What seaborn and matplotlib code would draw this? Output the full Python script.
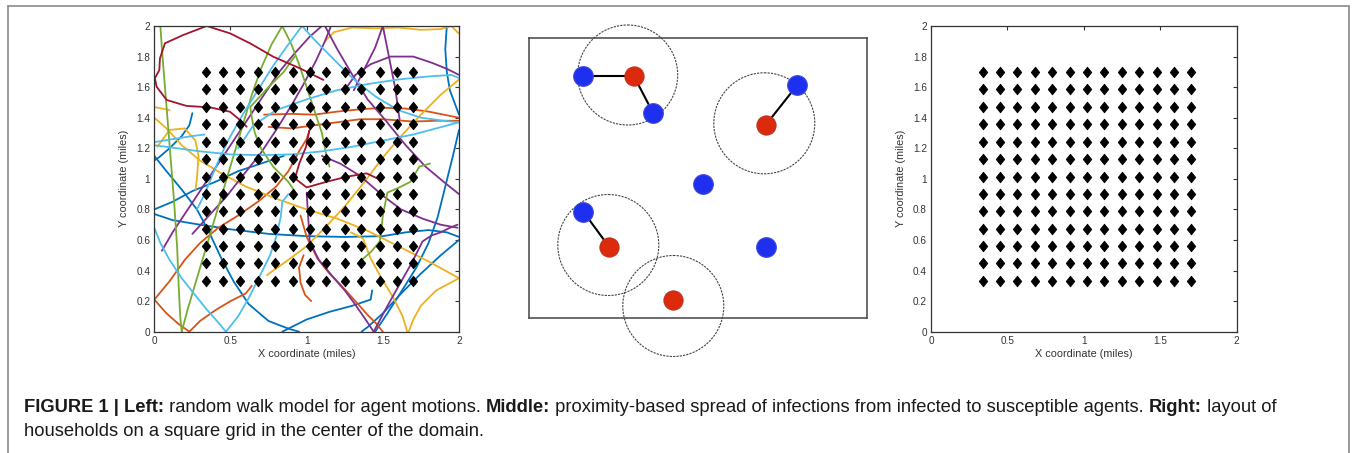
import matplotlib
matplotlib.use("Agg")
import numpy as np
import pandas as pd
import seaborn as sns
import matplotlib.pyplot as plt
from matplotlib.patches import Circle
from matplotlib.lines import Line2D

# ---------------- data ----------------
# household grid (miles)
grid_x = [0.34, 0.45, 0.56, 0.68, 0.79, 0.91, 1.02, 1.13, 1.25, 1.36, 1.48, 1.59, 1.70]
grid_y = [0.33, 0.45, 0.56, 0.67, 0.79, 0.90, 1.01, 1.13, 1.24, 1.36, 1.47, 1.59, 1.70]

axis_ticks_x = [0, 0.5, 1, 1.5, 2]
axis_ticklabels_x = ["0", "0.5", "1", "1.5", "2"]
axis_ticks_y = [0, 0.2, 0.4, 0.6, 0.8, 1.0, 1.2, 1.4, 1.6, 1.8, 2.0]
axis_ticklabels_y = ["0", "0.2", "0.4", "0.6", "0.8", "1", "1.2", "1.4", "1.6", "1.8", "2"]

# random-walk trajectories (miles)
walk_b1 = [(0.0,1.15),(0.08,1.05),(0.18,0.93),(0.28,0.80),(0.36,0.65),(0.44,0.48),(0.52,0.33),(0.62,0.18),(0.75,0.07),(0.88,0.02),(0.95,0.0)]
walk_b2 = [(0.0,0.77),(0.12,0.73),(0.3,0.70),(0.5,0.67),(0.75,0.64),(1.0,0.625),(1.25,0.62),(1.5,0.625),(1.65,0.65),(1.8,0.665),(1.92,0.65),(2.0,0.62)]
walk_b3 = [(1.92,2.0),(1.91,1.85),(1.92,1.7),(1.94,1.58),(1.97,1.5),(2.0,1.42)]
walk_b4 = [(2.0,1.32),(1.96,1.15),(1.91,0.95),(1.86,0.75),(1.8,0.58),(1.72,0.42),(1.62,0.26),(1.53,0.12),(1.45,0.0)]
walk_b5 = [(2.0,0.6),(1.88,0.5),(1.75,0.38),(1.62,0.25),(1.5,0.12),(1.4,0.03),(1.36,0.0)]
walk_b6 = [(1.43,0.27),(1.42,0.21),(1.3,0.17),(1.15,0.13),(1.0,0.08),(0.88,0.02),(0.84,0.0)]
walk_b7 = [(0.25,1.43),(0.23,1.35),(0.18,1.28),(0.1,1.2),(0.03,1.14),(0.0,1.12)]
walk_b8 = [(0.0,0.8),(0.12,0.85),(0.25,0.92),(0.4,0.98),(0.55,1.05),(0.7,1.1),(0.85,1.15)]

walk_o1 = [(0.72,1.42),(0.9,1.425),(1.05,1.42),(1.2,1.44),(1.35,1.455),(1.5,1.465),(1.65,1.46),(1.8,1.44),(1.9,1.42),(2.0,1.4)]
walk_o2 = [(0.75,1.34),(0.9,1.33),(1.05,1.35),(1.2,1.37),(1.35,1.39),(1.5,1.39),(1.7,1.375),(1.85,1.38),(2.0,1.38)]
walk_o3 = [(0.0,0.21),(0.1,0.33),(0.2,0.47),(0.3,0.58),(0.42,0.68),(0.55,0.76),(0.68,0.85),(0.8,0.95),(0.88,1.05),(0.95,1.18),(1.0,1.26),(1.02,1.32)]
walk_o4 = [(0.0,0.21),(0.08,0.12),(0.16,0.05),(0.23,0.0),(0.3,0.07),(0.4,0.14),(0.5,0.2),(0.6,0.25),(0.64,0.3)]
walk_o5 = [(0.96,0.76),(1.0,0.62),(1.07,0.48),(1.15,0.38),(1.22,0.31),(1.32,0.2),(1.4,0.11),(1.46,0.05),(1.5,0.0)]
walk_o6 = [(1.03,0.2),(0.99,0.24),(0.96,0.32),(0.95,0.42),(0.98,0.5)]

walk_y1 = [(1.12,1.9),(1.18,1.96),(1.3,1.99),(1.45,1.985),(1.6,1.99),(1.75,1.975),(1.88,1.98),(1.95,2.0),(2.0,1.95)]
walk_y2 = [(2.0,1.65),(1.88,1.55),(1.75,1.42),(1.62,1.28),(1.5,1.14),(1.38,0.98),(1.25,0.82),(1.12,0.68),(1.0,0.56),(0.88,0.47),(0.78,0.4),(0.74,0.37)]
walk_y3 = [(0.0,1.4),(0.08,1.33),(0.18,1.22),(0.3,1.12),(0.45,1.03),(0.6,0.95),(0.8,0.87),(1.0,0.8),(1.2,0.74),(1.4,0.66),(1.6,0.56),(1.8,0.46),(2.0,0.35),(1.85,0.27),(1.75,0.17),(1.7,0.08),(1.67,0.0)]
walk_y4 = [(1.29,0.65),(1.37,0.61),(1.42,0.48),(1.48,0.37),(1.57,0.22),(1.63,0.1),(1.66,0.0)]
walk_y5 = [(0.0,1.47),(0.05,1.46),(0.1,1.45)]
walk_y6 = [(0.02,1.21),(0.1,1.32),(0.2,1.33),(0.27,1.25),(0.29,1.15),(0.28,1.0),(0.27,0.93)]

walk_p1 = [(0.05,0.53),(0.12,0.65),(0.22,0.8),(0.32,0.95),(0.42,1.1),(0.52,1.25),(0.62,1.4),(0.72,1.55),(0.82,1.7),(0.92,1.82),(1.02,1.93),(1.1,2.0)]
walk_p2 = [(0.25,0.64),(0.35,0.75),(0.47,0.88),(0.58,1.02),(0.7,1.17),(0.8,1.32),(0.9,1.48),(0.98,1.62),(1.06,1.77),(1.12,1.9),(1.16,2.0)]
walk_p3 = [(1.12,2.0),(1.2,1.85),(1.3,1.68),(1.4,1.52),(1.52,1.38),(1.65,1.22),(1.78,1.08),(1.9,0.98),(2.0,0.9)]
walk_p4 = [(1.31,1.58),(1.38,1.72),(1.45,1.86),(1.5,2.0),(1.54,1.8),(1.58,1.6),(1.61,1.39)]
walk_p5 = [(1.25,1.58),(1.32,1.68),(1.42,1.75),(1.55,1.8),(1.7,1.8),(1.82,1.76),(1.92,1.72),(2.0,1.68)]
walk_p6 = [(1.0,0.91),(1.01,0.75),(1.02,0.59),(1.08,0.47),(1.18,0.35),(1.25,0.27),(1.31,0.19),(1.38,0.09),(1.44,0.0)]
walk_p7 = [(1.44,0.0),(1.52,0.15),(1.61,0.31),(1.69,0.45),(1.76,0.59),(1.82,0.63),(1.88,0.65),(1.94,0.68),(1.99,0.70)]
walk_p8 = [(1.1,1.15),(1.22,1.1),(1.35,1.02),(1.5,0.89),(1.62,0.8),(1.76,0.74),(1.88,0.7),(1.99,0.68)]

walk_g1 = [(0.04,2.0),(0.05,1.85),(0.07,1.6),(0.09,1.35),(0.11,1.1),(0.13,0.85),(0.15,0.55),(0.16,0.3),(0.17,0.1),(0.18,0.0)]
walk_g2 = [(0.18,0.0),(0.22,0.15),(0.28,0.35),(0.34,0.55),(0.4,0.75),(0.46,0.95),(0.52,1.15),(0.58,1.35),(0.64,1.55),(0.7,1.72),(0.77,1.88),(0.84,2.0),(0.9,1.88),(0.95,1.75),(1.0,1.6),(1.05,1.45),(1.1,1.3),(1.13,1.15),(1.15,1.08)]
walk_g3 = [(0.92,1.8),(0.85,1.7),(0.75,1.6),(0.63,1.47),(0.64,1.4),(0.66,1.3),(0.7,1.2),(0.78,1.08),(0.88,0.98),(0.92,0.92)]
walk_g4 = [(1.81,1.1),(1.74,1.08),(1.68,0.98),(1.6,0.94),(1.53,0.91),(1.5,0.76),(1.49,0.66),(1.48,0.59),(1.42,0.52),(1.35,0.46)]

walk_l1 = [(0.0,1.22),(0.15,1.2),(0.3,1.18),(0.5,1.16),(0.7,1.155),(0.9,1.16),(1.1,1.18),(1.3,1.21),(1.5,1.25),(1.7,1.29),(1.85,1.33),(2.0,1.37)]
walk_l2 = [(0.0,1.24),(0.12,1.26),(0.25,1.28),(0.33,1.29)]
walk_l3 = [(0.97,2.0),(0.88,1.88),(0.78,1.74),(0.68,1.58),(0.58,1.42),(0.5,1.28),(0.43,1.14),(0.38,1.02),(0.33,0.9),(0.28,0.8)]
walk_l4 = [(0.97,2.0),(1.06,1.9),(1.18,1.78),(1.3,1.66),(1.45,1.54),(1.6,1.45),(1.75,1.4),(1.9,1.38),(2.0,1.37)]
walk_l5 = [(0.55,1.2),(0.65,1.35),(0.8,1.45),(1.0,1.52),(1.2,1.58),(1.4,1.62),(1.6,1.65),(1.8,1.67),(1.95,1.68),(2.0,1.66)]
walk_l6 = [(0.0,0.68),(0.04,0.58),(0.1,0.47),(0.18,0.35),(0.26,0.25),(0.34,0.15),(0.42,0.06),(0.47,0.0)]
walk_l7 = [(0.47,0.0),(0.55,0.1),(0.62,0.22),(0.7,0.38),(0.76,0.5),(0.8,0.62),(0.83,0.75),(0.84,0.85),(0.88,0.9)]

walk_d1 = [(1.11,1.647),(0.956,1.723),(0.781,1.799),(0.628,1.887),(0.497,1.952),(0.344,2.0),(0.19,1.941),(0.07,1.887),(0.037,1.788),(0.033,1.712),(0.004,1.658),(0.015,1.603),(0.081,1.516),(0.212,1.477),(0.365,1.468),(0.497,1.439),(0.562,1.385),(0.606,1.341)]
walk_d2 = [(1.017,1.315),(0.996,1.21),(0.952,1.101),(0.923,1.003),(1.0,0.944),(1.131,0.981),(1.263,1.014),(1.394,1.036),(1.459,1.005)]

walk_colors = {
    "b": "#0072BD", "o": "#D95319", "y": "#EDB120", "p": "#7E2F8E",
    "g": "#77AC30", "l": "#4DBEEE", "d": "#A2142F",
}
walks = {
    "b1": walk_b1, "b2": walk_b2, "b3": walk_b3, "b4": walk_b4, "b5": walk_b5,
    "b6": walk_b6, "b7": walk_b7, "b8": walk_b8,
    "o1": walk_o1, "o2": walk_o2, "o3": walk_o3, "o4": walk_o4, "o5": walk_o5, "o6": walk_o6,
    "y1": walk_y1, "y2": walk_y2, "y3": walk_y3, "y4": walk_y4, "y5": walk_y5, "y6": walk_y6,
    "p1": walk_p1, "p2": walk_p2, "p3": walk_p3, "p4": walk_p4, "p5": walk_p5,
    "p6": walk_p6, "p7": walk_p7, "p8": walk_p8,
    "g1": walk_g1, "g2": walk_g2, "g3": walk_g3, "g4": walk_g4,
    "l1": walk_l1, "l2": walk_l2, "l3": walk_l3, "l4": walk_l4, "l5": walk_l5,
    "l6": walk_l6, "l7": walk_l7,
    "d1": walk_d1, "d2": walk_d2,
}

# middle schematic (units relative to the box, y downward)
susceptible_x = [53.7, 124.3, 268.3, 174.3, 54.3, 236.7]
susceptible_y = [38.0, 75.6, 47.3, 146.6, 174.0, 209.3]
infected_x = [104.7, 236.7, 80.0, 143.7]
infected_y = [38.0, 87.3, 209.0, 262.3]
radius_x = [98.7, 235.3, 79.3, 144.3]
radius_y = [37.3, 85.6, 207.3, 268.3]
radius_r = [50.0, 50.5, 50.5, 50.5]
# contacts: (infected index, susceptible index)
contacts = [(0, 0), (0, 1), (1, 2), (2, 4)]

caption_parts_1 = [("FIGURE 1 | Left:", "bold"), (" random walk model for agent motions. ", "normal"),
                   ("Middle:", "bold"),
                   (" proximity-based spread of infections from infected to susceptible agents. ", "normal"),
                   ("Right:", "bold"), (" layout of", "normal")]
caption_line_2 = "households on a square grid in the center of the domain."

# ---------------- figure ----------------
sns.set_theme(style="white")
plt.rcParams["font.family"] = ["Liberation Sans", "DejaVu Sans"]

W, H = 1356, 453
fig = plt.figure(figsize=(W / 100, H / 100), dpi=100)
fig.patch.set_facecolor("white")

def px_axes(x0, y0, x1, y1):
    return fig.add_axes([x0 / W, 1 - y1 / H, (x1 - x0) / W, (y1 - y0) / H])

ax_l = px_axes(154.3, 26.0, 459.0, 331.7)
ax_m = px_axes(529.0, 37.7, 867.0, 317.7)
ax_r = px_axes(931.0, 26.0, 1236.7, 331.7)

gx, gy = np.meshgrid(grid_x, grid_y)
grid_df = pd.DataFrame({"x": gx.ravel(), "y": gy.ravel()})
diamond = [(-0.8, 0.0), (0.0, 1.0), (0.8, 0.0), (0.0, -1.0), (-0.8, 0.0)]

rows = []
for name, pts in walks.items():
    for i, (x, y) in enumerate(pts):
        rows.append({"walk": name, "order": i, "x": x, "y": y})
walk_df = pd.DataFrame(rows)
palette = {name: walk_colors[name[0]] for name in walks}

def style_matlab(ax):
    ax.set_xlim(0, 2)
    ax.set_ylim(0, 2)
    ax.set_xticks(axis_ticks_x)
    ax.set_xticklabels(axis_ticklabels_x)
    ax.set_yticks(axis_ticks_y)
    ax.set_yticklabels(axis_ticklabels_y)
    ax.tick_params(direction="in", top=True, right=True, length=3, width=0.8,
                   labelsize=7.2, colors="#333333", pad=3)
    for s in ax.spines.values():
        s.set_visible(True)
        s.set_color("#333333")
        s.set_linewidth(0.9)
    ax.set_xlabel("X coordinate (miles)", fontsize=7.8, color="#333333", labelpad=2)
    ax.set_ylabel("Y coordinate (miles)", fontsize=7.8, color="#333333", labelpad=5)

def draw_grid(ax):
    sns.scatterplot(data=grid_df, x="x", y="y", marker=diamond, s=58, color="black",
                    edgecolor="black", linewidth=0.6, ax=ax, zorder=3)

# left panel
sns.lineplot(data=walk_df, x="x", y="y", hue="walk", units="walk", estimator=None,
             sort=False, palette=palette, legend=False, linewidth=1.3, ax=ax_l)
draw_grid(ax_l)
style_matlab(ax_l)

# right panel
draw_grid(ax_r)
style_matlab(ax_r)

# middle panel
for cx, cy, r in zip(radius_x, radius_y, radius_r):
    ax_m.add_patch(Circle((cx, cy), r, fill=False, edgecolor="#444444",
                          linestyle=(0, (2, 1)), linewidth=0.8, clip_on=False, zorder=2))
for i_inf, i_sus in contacts:
    ax_m.plot([infected_x[i_inf], susceptible_x[i_sus]], [infected_y[i_inf], susceptible_y[i_sus]],
              color="black", linewidth=1.5, zorder=3, clip_on=False)
sus_df = pd.DataFrame({"x": susceptible_x, "y": susceptible_y})
inf_df = pd.DataFrame({"x": infected_x, "y": infected_y})
sns.scatterplot(data=sus_df, x="x", y="y", s=200, color="#1f2ff0", edgecolor="#3a4ad8",
                linewidth=0.8, ax=ax_m, zorder=4, clip_on=False)
sns.scatterplot(data=inf_df, x="x", y="y", s=190, color="#dc2a0c", edgecolor="#c03020",
                linewidth=0.8, ax=ax_m, zorder=4, clip_on=False)
ax_m.set_xlim(0, 338)
ax_m.set_ylim(280, 0)
ax_m.set_xticks([])
ax_m.set_yticks([])
ax_m.set_xlabel("")
ax_m.set_ylabel("")
for s in ax_m.spines.values():
    s.set_visible(True)
    s.set_color("#444444")
    s.set_linewidth(1.1)

# outer frame
frame_c = "#8a8a8a"
fig.add_artist(Line2D([8 / W, 1349 / W], [1 - 6 / H, 1 - 6 / H], color=frame_c, lw=1.2))
fig.add_artist(Line2D([8 / W, 8 / W], [0, 1 - 6 / H], color=frame_c, lw=1.2))
fig.add_artist(Line2D([1349 / W, 1349 / W], [0, 1 - 6 / H], color=frame_c, lw=1.2))

# caption
renderer = fig.canvas.get_renderer()
x = 24 / W
y1 = 1 - 408 / H
for txt, wt in caption_parts_1:
    t = fig.text(x, y1, txt, fontsize=13.25, fontweight=wt, color="#1a1a1a", va="center", ha="left")
    bb = t.get_window_extent(renderer)
    x += bb.width / W
fig.text(24 / W, 1 - 431 / H, caption_line_2, fontsize=13.25, color="#1a1a1a", va="center", ha="left")

fig.savefig("out.png", dpi=100, facecolor="white")
